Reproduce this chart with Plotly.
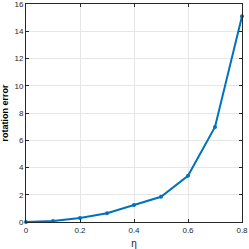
import plotly.graph_objects as go

eta = [0.0, 0.1, 0.2, 0.3, 0.4, 0.5, 0.6, 0.7, 0.8]
rot_err = [0.0, 0.07, 0.29, 0.64, 1.25, 1.85, 3.39, 6.98, 15.1]
x_ticks = [0, 0.2, 0.4, 0.6, 0.8]
x_tick_labels = ["0", "0.2", "0.4", "0.6", "0.8"]
y_ticks = [0, 2, 4, 6, 8, 10, 12, 14, 16]

fig = go.Figure()
fig.add_trace(go.Scatter(
    x=eta, y=rot_err, mode="lines+markers",
    line=dict(color="#0072BD", width=2),
    marker=dict(color="#0072BD", size=4, symbol="circle"),
    showlegend=False, cliponaxis=False,
))

axis_common = dict(
    showline=True, linecolor="#262626", linewidth=0.8, mirror="ticks",
    ticks="inside", ticklen=3, tickcolor="#262626",
    showgrid=True, gridcolor="#e6e6e6", gridwidth=1,
    zeroline=False, automargin=False, ticklabeloverflow="allow",
    tickfont=dict(family="Liberation Sans, Arial, sans-serif", size=8, color="#262626"),
)

fig.update_layout(
    width=249, height=249,
    margin=dict(l=26, r=7, t=4, b=27),
    paper_bgcolor="white", plot_bgcolor="white",
    xaxis=dict(range=[0, 0.8], tickvals=x_ticks, ticktext=x_tick_labels,
               title=dict(text="η", standoff=7,
                          font=dict(family="Liberation Sans, Arial, sans-serif", size=10, color="#262626")),
               **axis_common),
    yaxis=dict(range=[0, 16], tickvals=y_ticks,
               title=dict(text="<b>rotation error</b>", standoff=4,
                          font=dict(family="Liberation Sans, Arial, sans-serif", size=9, color="#000000")),
               **axis_common),
)

fig.write_html("out.html", config={"displayModeBar": False},
               post_script="document.body.style.margin='0';document.body.style.padding='0';")
